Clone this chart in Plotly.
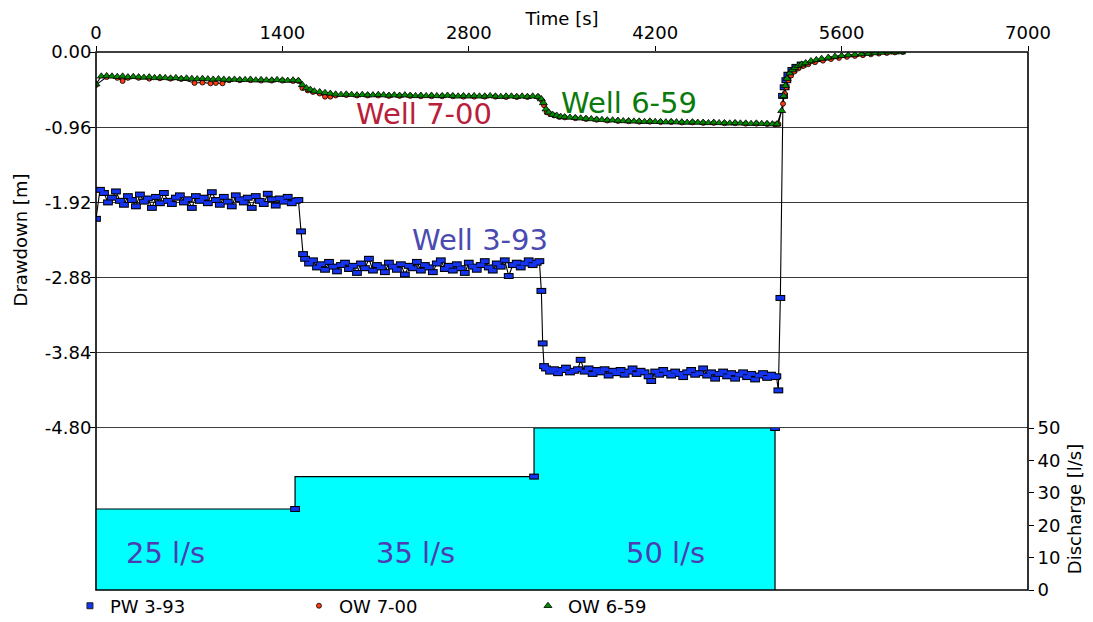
import plotly.graph_objects as go

# ---------------- data ----------------
# PW 3-93 (pumping well), drawdown [m] vs time [s]
pw_t = [0, 30, 60, 90, 120, 150, 180, 210, 240, 270, 300, 330, 360, 390, 420, 450, 480, 510, 540, 570,
        600, 630, 660, 690, 720, 750, 780, 810, 840, 870, 900, 930, 960, 990, 1020, 1050, 1080, 1110, 1140, 1170,
        1200, 1230, 1260, 1290, 1320, 1350, 1380, 1410, 1440, 1470, 1500, 1520, 1540, 1555,
        1570, 1600, 1630, 1660, 1690, 1720, 1750, 1780, 1810, 1840, 1870, 1900, 1930, 1960, 1990, 2020, 2050, 2080,
        2110, 2140, 2170, 2200, 2230, 2260, 2290, 2320, 2350, 2380, 2410, 2440, 2470, 2500, 2530, 2560, 2590, 2620,
        2650, 2680, 2710, 2740, 2770, 2800, 2830, 2860, 2890, 2920, 2950, 2980, 3010, 3040, 3070, 3100, 3130, 3160,
        3190, 3220, 3250, 3280, 3310, 3330, 3345, 3355, 3365,
        3380, 3410, 3440, 3470, 3500, 3530, 3560, 3590, 3620, 3640, 3670, 3700, 3730, 3760, 3790, 3820, 3850, 3880,
        3910, 3940, 3970, 4000, 4030, 4060, 4090, 4120, 4150, 4170, 4200, 4230, 4260, 4290, 4320, 4350, 4380, 4410,
        4440, 4470, 4500, 4530, 4560, 4590, 4620, 4650, 4680, 4710, 4740, 4770, 4800, 4830, 4860, 4890, 4920, 4950,
        4980, 5010, 5040, 5070, 5100, 5110, 5125, 5140, 5160, 5172, 5185, 5200, 5230, 5260, 5300]
pw_dd = [-2.13, -1.76, -1.80, -1.92, -1.86, -1.78, -1.90, -1.95, -1.84, -1.89, -1.97, -1.82, -1.91, -1.87, -1.99,
         -1.85, -1.93, -1.80, -1.90, -1.94, -1.86, -1.83, -1.92, -1.88, -1.99, -1.84, -1.90, -1.86, -1.93, -1.79,
         -1.89, -1.95, -1.85, -1.91, -1.97, -1.83, -1.88, -1.92, -1.86, -1.99, -1.84, -1.90, -1.94, -1.81, -1.88,
         -1.96, -1.87, -1.91, -1.85, -1.93, -1.90, -1.89, -2.29, -2.58,
         -2.64, -2.70, -2.66, -2.75, -2.71, -2.78, -2.68, -2.74, -2.80, -2.72, -2.69, -2.77, -2.73, -2.82, -2.70,
         -2.76, -2.64, -2.79, -2.72, -2.75, -2.81, -2.69, -2.74, -2.78, -2.71, -2.84, -2.73, -2.76, -2.68, -2.79,
         -2.72, -2.75, -2.81, -2.70, -2.66, -2.77, -2.73, -2.79, -2.71, -2.76, -2.82, -2.69, -2.74, -2.78, -2.72,
         -2.67, -2.75, -2.79, -2.70, -2.74, -2.66, -2.86, -2.72, -2.69, -2.75, -2.70, -2.66, -2.72, -2.69, -2.67,
         -3.05, -3.72, -4.01,
         -4.04, -4.08, -4.05, -4.10, -4.06, -4.03, -4.09, -4.07, -4.05, -3.93, -4.08, -4.04, -4.11, -4.06, -4.09,
         -4.05, -4.13, -4.07, -4.10, -4.06, -4.12, -4.08, -4.04, -4.11, -4.07, -4.09, -4.14, -4.20, -4.08, -4.12,
         -4.06, -4.10, -4.13, -4.08, -4.11, -4.15, -4.09, -4.06, -4.12, -4.10, -4.04, -4.13, -4.09, -4.17, -4.11,
         -4.08, -4.14, -4.10, -4.17, -4.12, -4.09, -4.15, -4.11, -4.18, -4.13, -4.10, -4.16, -4.12, -4.15, -4.14,
         -4.32, -3.14, -0.56, -0.45, -0.36, -0.29, -0.23, -0.19, -0.16]

# OW 7-00 (observation well)
ow700_t = [0, 80, 160, 200, 240, 320, 400, 480, 560, 640, 740, 800, 860, 900, 950, 1000, 1080, 1160, 1240,
           1320, 1400, 1480, 1520, 1550, 1590, 1630, 1680, 1720, 1760, 1800,
           1880, 1960, 2040, 2120, 2200, 2280, 2360, 2440, 2520, 2600, 2680, 2760, 2840, 2920, 3000, 3080, 3160,
           3240, 3320, 3350, 3365, 3385, 3410, 3440, 3480,
           3520, 3600, 3680, 3760, 3840, 3920, 4000, 4080, 4160, 4240, 4320, 4400, 4480, 4560, 4640, 4720, 4800,
           4880, 4960, 5040, 5100, 5125, 5160, 5172, 5185, 5200, 5220, 5245, 5275, 5310, 5350, 5400, 5460, 5520,
           5580, 5640, 5700, 5760, 5820, 5880, 5940, 6000, 6060]
ow700_dd = [-0.42, -0.32, -0.33, -0.37, -0.33, -0.33, -0.34, -0.335, -0.34, -0.345, -0.395, -0.39, -0.40, -0.395,
            -0.40, -0.36, -0.36, -0.36, -0.365, -0.365, -0.365, -0.37, -0.37, -0.46, -0.49, -0.51, -0.53, -0.57,
            -0.57, -0.555,
            -0.55, -0.555, -0.555, -0.555, -0.56, -0.56, -0.56, -0.565, -0.565, -0.565, -0.565, -0.57, -0.57, -0.57,
            -0.57, -0.575, -0.575, -0.575, -0.575, -0.62, -0.68, -0.77, -0.79, -0.81, -0.83,
            -0.835, -0.845, -0.855, -0.865, -0.875, -0.88, -0.885, -0.89, -0.89, -0.895, -0.895, -0.90, -0.90,
            -0.905, -0.905, -0.91, -0.91, -0.915, -0.915, -0.92, -0.925, -0.92, -0.66, -0.53, -0.45, -0.36, -0.30,
            -0.25, -0.21, -0.18, -0.155, -0.13, -0.11, -0.09, -0.075, -0.062, -0.05, -0.04, -0.03, -0.02, -0.012,
            -0.005, 0.0]

# OW 6-59 (observation well)
ow659_t = [0, 40, 80, 120, 160, 200, 240, 280, 320, 360, 400, 440, 480, 520, 560, 600, 640, 680, 720, 760, 800,
           840, 880, 920, 960, 1000, 1040, 1080, 1120, 1160, 1200, 1240, 1280, 1320, 1360, 1400, 1440, 1480, 1520,
           1550, 1580, 1610, 1640, 1680, 1720, 1760, 1800,
           1840, 1880, 1920, 1960, 2000, 2040, 2080, 2120, 2160, 2200, 2240, 2280, 2320, 2360, 2400, 2440, 2480,
           2520, 2560, 2600, 2640, 2680, 2720, 2760, 2800, 2840, 2880, 2920, 2960, 3000, 3040, 3080, 3120, 3160,
           3200, 3240, 3280, 3320, 3345, 3360, 3380, 3400, 3430, 3460, 3490,
           3520, 3560, 3600, 3640, 3680, 3720, 3760, 3800, 3840, 3880, 3920, 3960, 4000, 4040, 4080, 4120, 4160,
           4200, 4240, 4280, 4320, 4360, 4400, 4440, 4480, 4520, 4560, 4600, 4640, 4680, 4720, 4760, 4800, 4840,
           4880, 4920, 4960, 5000, 5040, 5080, 5115, 5150, 5165, 5178, 5190, 5210, 5230, 5250, 5275, 5300, 5330,
           5370, 5410, 5450, 5500, 5550, 5600, 5650, 5700, 5750, 5800, 5850, 5900, 5950, 6000, 6050]
ow659_dd = [-0.41, -0.31, -0.305, -0.31, -0.315, -0.31, -0.32, -0.315, -0.32, -0.325, -0.32, -0.33, -0.325, -0.33,
            -0.335, -0.33, -0.34, -0.335, -0.34, -0.345, -0.34, -0.345, -0.35, -0.345, -0.35, -0.355, -0.35,
            -0.355, -0.355, -0.35, -0.36, -0.355, -0.36, -0.36, -0.355, -0.36, -0.365, -0.36, -0.365,
            -0.42, -0.46, -0.48, -0.50, -0.51, -0.52, -0.53, -0.54,
            -0.545, -0.54, -0.545, -0.55, -0.545, -0.55, -0.55, -0.545, -0.55, -0.555, -0.55, -0.555, -0.55, -0.555,
            -0.56, -0.555, -0.56, -0.555, -0.56, -0.56, -0.555, -0.56, -0.565, -0.56, -0.565, -0.56, -0.565,
            -0.565, -0.56, -0.565, -0.57, -0.565, -0.565, -0.57, -0.565, -0.57, -0.565, -0.57,
            -0.60, -0.65, -0.73, -0.77, -0.80, -0.81, -0.825,
            -0.83, -0.835, -0.84, -0.845, -0.85, -0.855, -0.86, -0.865, -0.87, -0.87, -0.875, -0.88, -0.88, -0.885,
            -0.885, -0.89, -0.885, -0.89, -0.89, -0.895, -0.89, -0.895, -0.895, -0.90, -0.895, -0.90, -0.90,
            -0.905, -0.90, -0.905, -0.905, -0.91, -0.905, -0.91, -0.91, -0.915, -0.91, -0.915, -0.915, -0.92,
            -0.92, -0.75, -0.56, -0.43, -0.34, -0.27, -0.23, -0.20, -0.175, -0.157, -0.14, -0.115, -0.10, -0.085,
            -0.07, -0.058, -0.048, -0.04, -0.033, -0.026, -0.02, -0.013, -0.007, -0.003, -0.001, 0.0]

# Discharge steps [l/s]
q_start = [0, 1495, 3290]
q_end = [1495, 3290, 5100]
q_rate = [25, 35, 50]

# Axis ticks
time_ticks = [0, 1400, 2800, 4200, 5600, 7000]
dd_ticks = [0.0, -0.96, -1.92, -2.88, -3.84, -4.80]
dd_ticktext = ["0.00", "-0.96", "-1.92", "-2.88", "-3.84", "-4.80"]
q_ticks = [0, 10, 20, 30, 40, 50]

well_labels = ["Well 7-00", "Well 6-59", "Well 3-93"]

# ---------------- styling ----------------
BLUE = "#1434F0"
RED = "#FF3A10"
GREEN = "#008C00"
FONT = "DejaVu Sans"

# build discharge step line from the step lists
q_x, q_y = [], []
for s, e, r in zip(q_start, q_end, q_rate):
    q_x += [s, e]
    q_y += [r, r]
q_x.append(q_end[-1])
q_y.append(0)

fig = go.Figure()

RECT_OUT = dict(symbol="line-ew", size=7, line=dict(width=6, color="black"))
RECT_IN = dict(symbol="line-ew", size=5.6, color=BLUE, line=dict(width=3.8, color=BLUE))

# discharge area (lower panel)
fig.add_trace(go.Scatter(x=q_x, y=q_y, mode="lines", yaxis="y2", fill="tozeroy",
                         fillcolor="#00FFFF", line=dict(color="black", width=1.2),
                         showlegend=False, hoverinfo="skip"))
fig.add_trace(go.Scatter(x=q_end, y=q_rate, mode="markers", yaxis="y2", marker=RECT_OUT,
                         showlegend=False, hoverinfo="skip"))
fig.add_trace(go.Scatter(x=q_end, y=q_rate, mode="markers", yaxis="y2", marker=RECT_IN,
                         showlegend=False, hoverinfo="skip"))

# connecting lines
for t, d in [(pw_t, pw_dd), (ow700_t, ow700_dd), (ow659_t, ow659_dd)]:
    fig.add_trace(go.Scatter(x=t, y=d, mode="lines", line=dict(color="black", width=1.1),
                             showlegend=False, hoverinfo="skip"))

# markers
fig.add_trace(go.Scatter(x=pw_t, y=pw_dd, mode="markers", marker=RECT_OUT,
                         showlegend=False, hoverinfo="skip"))
fig.add_trace(go.Scatter(x=pw_t, y=pw_dd, mode="markers", name="PW 3-93", marker=RECT_IN,
                         legendgroup="pw", showlegend=False))
fig.add_trace(go.Scatter(x=ow700_t, y=ow700_dd, mode="markers", name="OW 7-00", legendrank=2,
                         marker=dict(symbol="circle", size=5, color=RED, line=dict(width=0.8, color="black"))))
fig.add_trace(go.Scatter(x=ow659_t, y=ow659_dd, mode="markers", name="OW 6-59", legendrank=3,
                         marker=dict(symbol="triangle-up", size=7, color=GREEN,
                                     line=dict(width=0.8, color="black"))))
# legend entry for PW 3-93 (legend symbol only)
fig.add_trace(go.Scatter(x=[None], y=[None], mode="markers", name="PW 3-93", legendgroup="pw",
                         legendrank=1,
                         marker=dict(symbol="square", size=6, color=BLUE, line=dict(width=1, color="#222"))))

# well labels
fig.add_annotation(x=2461, y=-0.79, xref="x", yref="y", text=well_labels[0], showarrow=False,
                   font=dict(family=FONT, size=29, color="#B8203A"))
fig.add_annotation(x=4000, y=-0.65, xref="x", yref="y", text=well_labels[1], showarrow=False,
                   font=dict(family=FONT, size=29, color="#0A7A0A"))
fig.add_annotation(x=2883, y=-2.40, xref="x", yref="y", text=well_labels[2], showarrow=False,
                   font=dict(family=FONT, size=29, color="#4A4AB0"))

# discharge labels
rate_label_x = [520, 2400, 4280]
for lx, r in zip(rate_label_x, q_rate):
    fig.add_annotation(x=lx, y=11.4, xref="x", yref="y2", text=f"{r} l/s", showarrow=False,
                       font=dict(family=FONT, size=29, color="#4D3CB4"))

# frame and divider
fig.add_shape(type="rect", xref="paper", yref="paper", x0=0, y0=0, x1=1, y1=1,
              line=dict(color="black", width=1.6), layer="above")
fig.add_shape(type="line", xref="paper", yref="y", x0=0, x1=1, y0=dd_ticks[-1], y1=dd_ticks[-1],
              line=dict(color="black", width=1.6), layer="above")

DOM_SPLIT = 162 / 538

tickfont = dict(family=FONT, size=18, color="black")
titlefont = dict(family=FONT, size=18, color="black")

# page body adds an 8px offset, so the figure is 8px smaller than the window
fig.update_layout(
    width=1085, height=614, autosize=False,
    margin=dict(l=88, r=65, t=44, b=32, autoexpand=False),
    paper_bgcolor="white", plot_bgcolor="white",
    xaxis=dict(range=[0, 7000], tickvals=time_ticks, side="top", anchor="y", automargin=False,
               ticks="outside", ticklen=5, tickcolor="black", tickfont=tickfont,
               title=dict(text="Time [s]", font=titlefont, standoff=0),
               showgrid=False, zeroline=False, showline=False),
    yaxis=dict(domain=[DOM_SPLIT, 1], range=[-4.8002, 0.0002], tickvals=dd_ticks, ticktext=dd_ticktext,
               automargin=False, ticklabelstandoff=-5,
               ticks="outside", ticklen=5, tickcolor="black", tickfont=tickfont,
               title=dict(text="Drawdown [m]", font=titlefont, standoff=12),
               showgrid=True, gridcolor="#3a3a3a", gridwidth=1.4, zeroline=False, showline=False),
    yaxis2=dict(domain=[0, DOM_SPLIT], range=[0, 50], tickvals=q_ticks, side="right", anchor="x",
                automargin=False,
                ticks="outside", ticklen=5, tickcolor="black", tickfont=tickfont,
                title=dict(text="Discharge [l/s]", font=titlefont, standoff=8),
                showgrid=False, zeroline=False, showline=False),
    legend=dict(orientation="h", xref="container", yref="container", x=0.0571, xanchor="left",
                y=0.026, yanchor="middle",
                font=dict(family=FONT, size=18, color="black"), bgcolor="rgba(0,0,0,0)",
                entrywidth=184, entrywidthmode="pixels", itemwidth=30, traceorder="normal"),
)

fig.write_html("out.html", config={"displayModeBar": False})
